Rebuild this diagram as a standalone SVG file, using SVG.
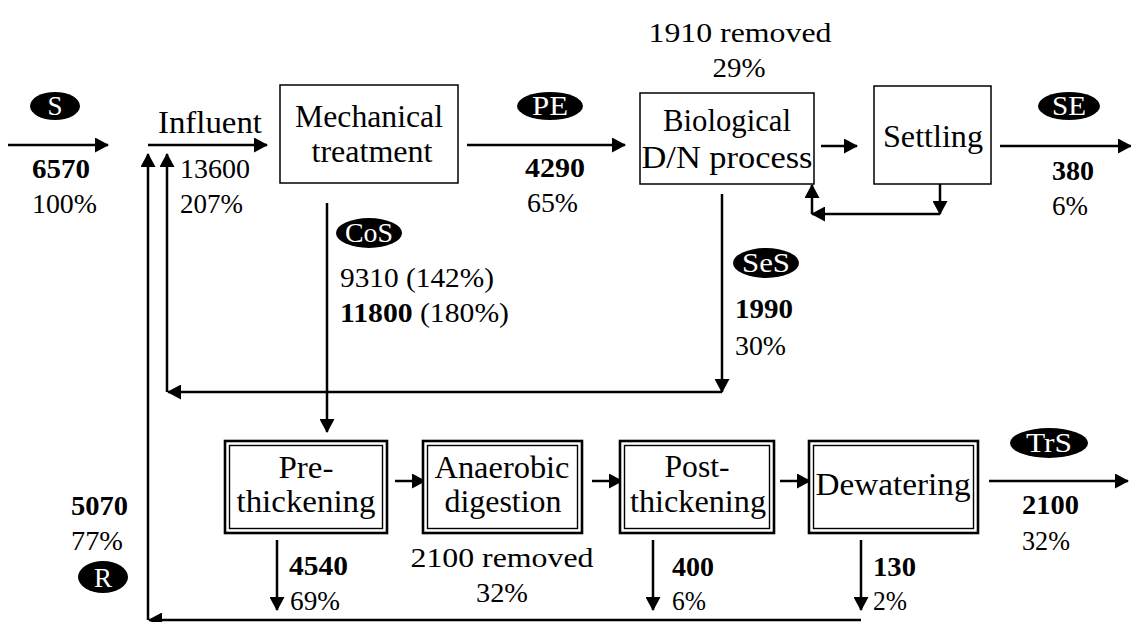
<svg xmlns="http://www.w3.org/2000/svg" width="1131" height="622" viewBox="0 0 1131 622">
<style>
text{font-family:"Liberation Serif","Times New Roman",serif;fill:#000}
.lb{font-size:31px;text-anchor:middle}
.nm{font-size:27px}
.b{font-weight:bold}
.tag{font-size:27px;fill:#fff;text-anchor:middle}
.box{fill:#fff;stroke:#000;stroke-width:1.5}
.ob{fill:#fff;stroke:#000;stroke-width:2.6}
.ib{fill:none;stroke:#000;stroke-width:1.4}
.c{fill:none;stroke:#000;stroke-width:2.5}
</style>
<defs>
<marker id="ah" markerUnits="userSpaceOnUse" markerWidth="14" markerHeight="15" refX="13" refY="7.5" orient="auto" viewBox="0 0 14 15">
<path d="M0,0 L14,7.5 L0,15 z" fill="#000"/>
</marker>
</defs>
<rect width="1131" height="622" fill="#fff"/>

<g id="connectors">
<line class="c" x1="8" y1="145" x2="108" y2="145" marker-end="url(#ah)"/>
<line class="c" x1="148" y1="145" x2="267" y2="145" marker-end="url(#ah)"/>
<line class="c" x1="467" y1="145" x2="625" y2="145" marker-end="url(#ah)"/>
<line class="c" x1="821" y1="146" x2="857" y2="146" marker-end="url(#ah)"/>
<line class="c" x1="1000" y1="146" x2="1131" y2="146" marker-end="url(#ah)"/>
<line class="c" x1="940" y1="184" x2="940" y2="214" marker-end="url(#ah)"/>
<line class="c" x1="940" y1="214" x2="812" y2="214" marker-end="url(#ah)"/>
<line class="c" x1="812" y1="214" x2="812" y2="185" marker-end="url(#ah)"/>
<line class="c" x1="148" y1="620" x2="148" y2="154" marker-end="url(#ah)"/>
<line class="c" x1="167" y1="392" x2="167" y2="154" marker-end="url(#ah)"/>
<line class="c" x1="722" y1="194" x2="722" y2="392" marker-end="url(#ah)"/>
<line class="c" x1="722" y1="392" x2="168" y2="392" marker-end="url(#ah)"/>
<line class="c" x1="327" y1="203" x2="327" y2="432" marker-end="url(#ah)"/>
<line class="c" x1="395" y1="481" x2="425" y2="481" marker-end="url(#ah)"/>
<line class="c" x1="592" y1="481" x2="622" y2="481" marker-end="url(#ah)"/>
<line class="c" x1="780" y1="481" x2="810" y2="481" marker-end="url(#ah)"/>
<line class="c" x1="989" y1="481" x2="1128" y2="481" marker-end="url(#ah)"/>
<line class="c" x1="277" y1="540" x2="277" y2="610" marker-end="url(#ah)"/>
<line class="c" x1="653" y1="540" x2="653" y2="610" marker-end="url(#ah)"/>
<line class="c" x1="861" y1="540" x2="861" y2="610" marker-end="url(#ah)"/>
<line class="c" x1="861" y1="620" x2="149" y2="620" marker-end="url(#ah)"/>
</g>

<g id="node-mechanical">
<rect class="box" x="280" y="85" width="178" height="98"/>
<text class="lb" x="369" y="127" textLength="148" lengthAdjust="spacingAndGlyphs">Mechanical</text>
<text class="lb" x="372" y="162" textLength="121" lengthAdjust="spacingAndGlyphs">treatment</text>
</g>
<g id="node-biological">
<rect class="box" x="640" y="93" width="174" height="91"/>
<text class="lb" x="727" y="131" textLength="128" lengthAdjust="spacingAndGlyphs">Biological</text>
<text class="lb" x="727" y="168" textLength="171" lengthAdjust="spacingAndGlyphs">D/N process</text>
</g>
<g id="node-settling">
<rect class="box" x="874" y="86" width="117" height="98"/>
<text class="lb" x="933" y="147" textLength="100" lengthAdjust="spacingAndGlyphs">Settling</text>
</g>
<g id="node-prethickening">
<rect class="ob" x="225" y="441" width="162" height="92"/>
<rect class="ib" x="229.5" y="445.5" width="153" height="83"/>
<text class="lb" x="306" y="478" textLength="55" lengthAdjust="spacingAndGlyphs">Pre-</text>
<text class="lb" x="306" y="512" textLength="139" lengthAdjust="spacingAndGlyphs">thickening</text>
</g>
<g id="node-anaerobic">
<rect class="ob" x="423" y="441" width="159" height="92"/>
<rect class="ib" x="427.5" y="445.5" width="150" height="83"/>
<text class="lb" x="502" y="478" textLength="135" lengthAdjust="spacingAndGlyphs">Anaerobic</text>
<text class="lb" x="503" y="512" textLength="117" lengthAdjust="spacingAndGlyphs">digestion</text>
</g>
<g id="node-postthickening">
<rect class="ob" x="620" y="441" width="154" height="92"/>
<rect class="ib" x="624.5" y="445.5" width="145" height="83"/>
<text class="lb" x="697" y="477" textLength="65" lengthAdjust="spacingAndGlyphs">Post-</text>
<text class="lb" x="698" y="512" textLength="136" lengthAdjust="spacingAndGlyphs">thickening</text>
</g>
<g id="node-dewatering">
<rect class="ob" x="809" y="441" width="169" height="92"/>
<rect class="ib" x="813.5" y="445.5" width="160" height="83"/>
<text class="lb" x="893" y="495" textLength="155" lengthAdjust="spacingAndGlyphs">Dewatering</text>
</g>

<g id="tag-S"><ellipse cx="55" cy="106" rx="25" ry="14"/><text class="tag" x="55" y="115">S</text></g>
<g id="tag-PE"><ellipse cx="550" cy="106" rx="33" ry="14"/><text class="tag" x="550" y="115" textLength="36" lengthAdjust="spacingAndGlyphs">PE</text></g>
<g id="tag-SE"><ellipse cx="1069" cy="106" rx="31" ry="14"/><text class="tag" x="1069" y="115" textLength="34" lengthAdjust="spacingAndGlyphs">SE</text></g>
<g id="tag-CoS"><ellipse cx="369" cy="233" rx="33" ry="15"/><text class="tag" x="369" y="242" textLength="48" lengthAdjust="spacingAndGlyphs">CoS</text></g>
<g id="tag-SeS"><ellipse cx="766" cy="263" rx="33" ry="15"/><text class="tag" x="766" y="272" textLength="48" lengthAdjust="spacingAndGlyphs">SeS</text></g>
<g id="tag-TrS"><ellipse cx="1049" cy="443" rx="39" ry="15"/><text class="tag" x="1049" y="452" textLength="46" lengthAdjust="spacingAndGlyphs">TrS</text></g>
<g id="tag-R"><ellipse cx="103" cy="577" rx="25" ry="16"/><text class="tag" x="103" y="587">R</text></g>

<g id="labels">
<text class="nm b" x="32" y="178" textLength="58" lengthAdjust="spacingAndGlyphs">6570</text>
<text class="nm" x="32" y="213" textLength="65" lengthAdjust="spacingAndGlyphs">100%</text>
<text class="lb" x="158" y="133" style="text-anchor:start" textLength="104" lengthAdjust="spacingAndGlyphs">Influent</text>
<text class="nm" x="180" y="178" textLength="70" lengthAdjust="spacingAndGlyphs">13600</text>
<text class="nm" x="180" y="213" textLength="63" lengthAdjust="spacingAndGlyphs">207%</text>
<text class="nm b" x="525" y="177" textLength="60" lengthAdjust="spacingAndGlyphs">4290</text>
<text class="nm" x="527" y="212" textLength="51" lengthAdjust="spacingAndGlyphs">65%</text>
<text class="nm" x="740" y="42" style="text-anchor:middle" textLength="183" lengthAdjust="spacingAndGlyphs">1910 removed</text>
<text class="nm" x="739" y="77" style="text-anchor:middle" textLength="53" lengthAdjust="spacingAndGlyphs">29%</text>
<text class="nm b" x="1052" y="180" textLength="42" lengthAdjust="spacingAndGlyphs">380</text>
<text class="nm" x="1052" y="215" textLength="36" lengthAdjust="spacingAndGlyphs">6%</text>
<text class="nm" x="340" y="287" textLength="154" lengthAdjust="spacingAndGlyphs">9310 (142%)</text>
<text class="nm" x="340" y="322" textLength="169" lengthAdjust="spacingAndGlyphs"><tspan class="b">11800</tspan> (180%)</text>
<text class="nm b" x="735" y="318" textLength="58" lengthAdjust="spacingAndGlyphs">1990</text>
<text class="nm" x="735" y="355" textLength="51" lengthAdjust="spacingAndGlyphs">30%</text>
<text class="nm b" x="1022" y="514" textLength="57" lengthAdjust="spacingAndGlyphs">2100</text>
<text class="nm" x="1022" y="550" textLength="48" lengthAdjust="spacingAndGlyphs">32%</text>
<text class="nm b" x="71" y="515" textLength="57" lengthAdjust="spacingAndGlyphs">5070</text>
<text class="nm" x="71" y="550" textLength="52" lengthAdjust="spacingAndGlyphs">77%</text>
<text class="nm b" x="289" y="575" textLength="59" lengthAdjust="spacingAndGlyphs">4540</text>
<text class="nm" x="290" y="610" textLength="50" lengthAdjust="spacingAndGlyphs">69%</text>
<text class="nm" x="502" y="567" style="text-anchor:middle" textLength="183" lengthAdjust="spacingAndGlyphs">2100 removed</text>
<text class="nm" x="502" y="602" style="text-anchor:middle" textLength="52" lengthAdjust="spacingAndGlyphs">32%</text>
<text class="nm b" x="672" y="576" textLength="42" lengthAdjust="spacingAndGlyphs">400</text>
<text class="nm" x="672" y="610" textLength="34" lengthAdjust="spacingAndGlyphs">6%</text>
<text class="nm b" x="873" y="576" textLength="43" lengthAdjust="spacingAndGlyphs">130</text>
<text class="nm" x="873" y="610" textLength="34" lengthAdjust="spacingAndGlyphs">2%</text>
</g>
</svg>
